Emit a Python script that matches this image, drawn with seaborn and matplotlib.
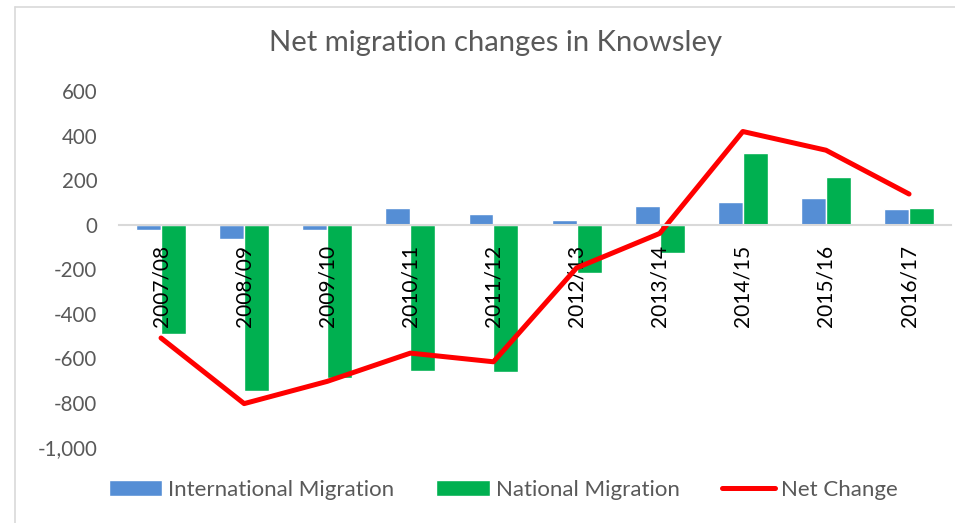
import numpy as np
import pandas as pd
import matplotlib
matplotlib.use("Agg")
import matplotlib.pyplot as plt
from matplotlib.patches import Patch
from matplotlib.lines import Line2D
from matplotlib.ticker import FuncFormatter
import seaborn as sns

# data
periods = ["2007/08", "2008/09", "2009/10", "2010/11", "2011/12",
           "2012/13", "2013/14", "2014/15", "2015/16", "2016/17"]
international = [-25, -64, -25, 74, 46, 20, 83, 101, 119, 68]
national = [-491, -747, -689, -657, -664, -219, -126, 320, 215, 73]
net_change = [-510, -805, -705, -578, -617, -195, -40, 418, 334, 137]

series_names = ["International Migration", "National Migration"]
colors = ["#558ED5", "#00B050"]

df = pd.DataFrame({
    "period": periods * 2,
    "value": international + national,
    "series": [series_names[0]] * len(periods) + [series_names[1]] * len(periods),
})

sns.set_theme(style="white")
plt.rcParams["font.family"] = ["Lato", "DejaVu Sans"]

fig = plt.figure(figsize=(9.55, 5.23), dpi=100)
ax = fig.add_axes([0.1251, 0.1453, 0.8703, 0.6807])

sns.barplot(data=df, x="period", y="value", hue="series", order=periods,
            hue_order=series_names, palette=colors, width=0.6, saturation=1,
            legend=False, ax=ax)
sns.lineplot(x=periods, y=net_change, color="#FF0000", linewidth=3.6,
             sort=False, ax=ax, solid_capstyle="round")

ax.set_ylim(-1000, 600)
ax.set_xlim(-0.5, len(periods) - 0.5)
ax.set_yticks(np.arange(-1000, 601, 200))
ax.yaxis.set_major_formatter(FuncFormatter(lambda v, p: f"{v:,.0f}"))
ax.set_xlabel("")
ax.set_ylabel("")
# labels above bars, under the red line
ax.set_axisbelow("line")

# category axis sits at zero
for s in ["top", "right", "left"]:
    ax.spines[s].set_visible(False)
ax.spines["bottom"].set_position(("data", 0))
ax.spines["bottom"].set_color("#D9D9D9")
ax.spines["bottom"].set_linewidth(1.5)
ax.tick_params(axis="x", length=0, pad=15, labelsize=15, labelcolor="black",
               labelrotation=90)
ax.tick_params(axis="y", length=0, pad=16, labelsize=14.8, labelcolor="#595959")
for lbl in ax.get_xticklabels():
    lbl.set_verticalalignment("top")

fig.text(0.519, 0.918, "Net migration changes in Knowsley", ha="center",
         va="center", fontsize=21.1, color="#595959")

handles = [Patch(facecolor=colors[0]), Patch(facecolor=colors[1]),
           Line2D([], [], color="#FF0000", linewidth=3.6, solid_capstyle="round")]
fig.legend(handles, series_names + ["Net Change"], loc="center",
           bbox_to_anchor=(0.527, 0.063), ncol=3, frameon=False, fontsize=16,
           labelcolor="#595959", handlelength=2.4, handleheight=0.7,
           handletextpad=0.27, columnspacing=1.9)

# chart frame
fig.add_artist(Line2D([15 / 955, 15 / 955], [0, 1 - 7 / 523],
                      color="#D9D9D9", linewidth=1.2, transform=fig.transFigure))
fig.add_artist(Line2D([15 / 955, 1], [1 - 7 / 523, 1 - 7 / 523],
                      color="#D9D9D9", linewidth=1.2, transform=fig.transFigure))

fig.savefig("out.png", dpi=100)
